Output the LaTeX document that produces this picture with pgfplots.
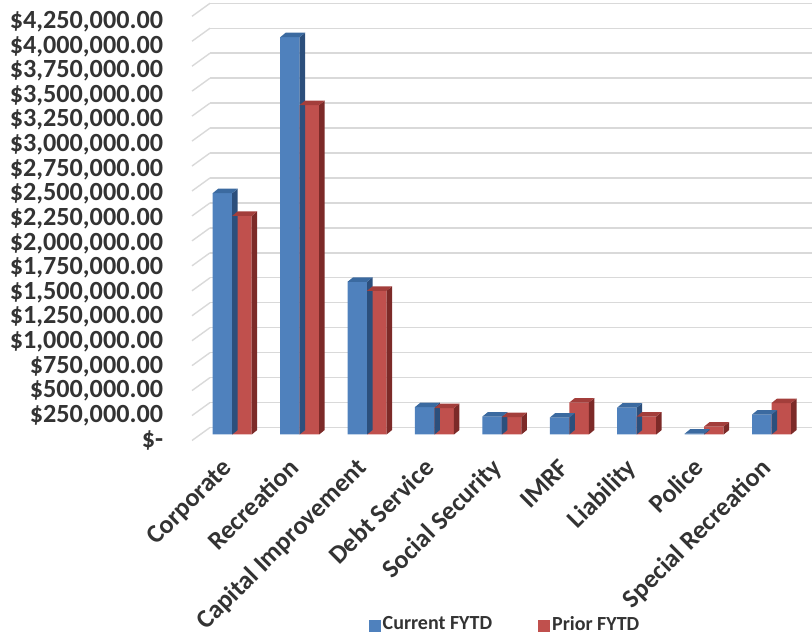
\documentclass[border=0pt]{standalone}
\usepackage{pgfplots}
\pgfplotsset{compat=1.18}
\usepackage{fontspec}
\setmainfont{Carlito}
\definecolor{cblue}{HTML}{4F81BD}
\definecolor{cred}{HTML}{C0504D}
\definecolor{btop}{HTML}{3B6AA0}
\definecolor{bside}{HTML}{2C4F7C}
\definecolor{rtop}{HTML}{A33E3B}
\definecolor{rside}{HTML}{7C2A28}
\definecolor{gridgray}{HTML}{D9D9D9}
\definecolor{txt}{HTML}{333333}
\newcommand\barfaces[3]{%
  \pgfmathsetlengthmacro\barh{\yv*99.81bp}%
  \pgfsetfillcolor{#2}%
  \pgfpathmoveto{\pgfpoint{#1}{0pt}}%
  \pgfpathlineto{\pgfpoint{#1+5.5bp}{4.5bp}}%
  \pgfpathlineto{\pgfpoint{#1+5.5bp}{4.5bp-\barh}}%
  \pgfpathlineto{\pgfpoint{#1}{-\barh}}%
  \pgfpathclose
  \pgfusepath{fill}%
  \pgfsetfillcolor{#3}%
  \pgfpathmoveto{\pgfpoint{#1-19.5bp}{0pt}}%
  \pgfpathlineto{\pgfpoint{#1-14bp}{4.5bp}}%
  \pgfpathlineto{\pgfpoint{#1+5.5bp}{4.5bp}}%
  \pgfpathlineto{\pgfpoint{#1}{0pt}}%
  \pgfpathclose
  \pgfusepath{fill}%
}
\pgfdeclareplotmark{blue3d}{\barfaces{0bp}{bside}{btop}}
\pgfdeclareplotmark{red3d}{\barfaces{19.5bp}{rside}{rtop}}
\pgfdeclareplotmark{wallslash}{%
  \pgfpathmoveto{\pgfpointorigin}%
  \pgfpathlineto{\pgfpoint{-18bp}{-13bp}}%
  \pgfusepathqstroke}

\pgfplotstableread{
x cur prior
0 2.418 2.19
1 3.98 3.30
2 1.53 1.44
3 0.275 0.265
4 0.18 0.175
5 0.17 0.32
6 0.27 0.18
7 0.008 0.08
8 0.20 0.315
}\datatable

\begin{document}
\begin{tikzpicture}
\begin{axis}[
  at={(210bp,211.5bp)}, anchor=south west,
  scale only axis, width=602bp, height=424.2bp,
  xmin=-0.33, xmax=8.6, ymin=0, ymax=4.25,
  clip=false,
  axis line style={draw=none},
  major tick length=0pt,
  ymajorgrids, grid style={color=gridgray, line width=1.4bp},
  ytick={0,0.25,0.5,0.75,1,1.25,1.5,1.75,2,2.25,2.5,2.75,3,3.25,3.5,3.75,4,4.25},
  yticklabels={{\$-\hspace{19bp}},{\$250,000.00},{\$500,000.00},{\$750,000.00},{\$1,000,000.00},{\$1,250,000.00},{\$1,500,000.00},{\$1,750,000.00},{\$2,000,000.00},{\$2,250,000.00},{\$2,500,000.00},{\$2,750,000.00},{\$3,000,000.00},{\$3,250,000.00},{\$3,500,000.00},{\$3,750,000.00},{\$4,000,000.00},{\$4,250,000.00}},
  yticklabel style={font=\fontsize{26.2bp}{26bp}\selectfont\bfseries, text=txt, inner sep=0pt, anchor=east, xshift=-46.7bp, yshift={-12.8bp-1.3bp*\tick}},
  xtick={0,...,8},
  xticklabels={Corporate,Recreation,Capital Improvement,Debt Service,Social Security,IMRF,Liability,Police,Special Recreation},
  xticklabel style={font=\fontsize{26bp}{26bp}\selectfont\bfseries, text=txt, inner sep=0pt, xshift=1bp, yshift=-42bp, rotate=45, anchor=base east},
  legend columns=2,
  legend style={at={(0.49,-0.463)}, anchor=center, draw=none, fill=none,
    font=\fontsize{20bp}{20bp}\selectfont\bfseries, text=txt,
    /tikz/every even column/.append style={column sep=44bp}},
]
\addplot[only marks, mark=wallslash, mark options={draw=gridgray, line width=1.4bp}, forget plot]
  coordinates {(-0.33,0) (-0.33,0.25) (-0.33,0.5) (-0.33,0.75) (-0.33,1) (-0.33,1.25) (-0.33,1.5) (-0.33,1.75) (-0.33,2) (-0.33,2.25) (-0.33,2.5) (-0.33,2.75) (-0.33,3) (-0.33,3.25) (-0.33,3.5) (-0.33,3.75) (-0.33,4) (-0.33,4.25)};
\addplot[ybar, bar width=19.5bp, bar shift=-9.75bp, fill=cblue, draw=none, yshift=-7bp,
  legend image code/.code={\fill[cblue] (0bp,-1bp) rectangle (12bp,11bp);}]
  table[x=x, y=cur] {\datatable};
\addlegendentry{Current FYTD}
\addplot[only marks, mark=blue3d, yshift=-7bp, forget plot, visualization depends on={rawy \as \yv}]
  table[x=x, y=cur] {\datatable};
\addplot[ybar, bar width=19.5bp, bar shift=9.75bp, fill=cred, draw=none, yshift=-7bp,
  legend image code/.code={\fill[cred] (0bp,-1bp) rectangle (12bp,11bp);}]
  table[x=x, y=prior] {\datatable};
\addlegendentry{Prior FYTD}
\addplot[only marks, mark=red3d, yshift=-7bp, forget plot, visualization depends on={rawy \as \yv}]
  table[x=x, y=prior] {\datatable};
\end{axis}
\pgfresetboundingbox
\useasboundingbox (0,0) rectangle (812bp,639bp);
\end{tikzpicture}
\end{document}
